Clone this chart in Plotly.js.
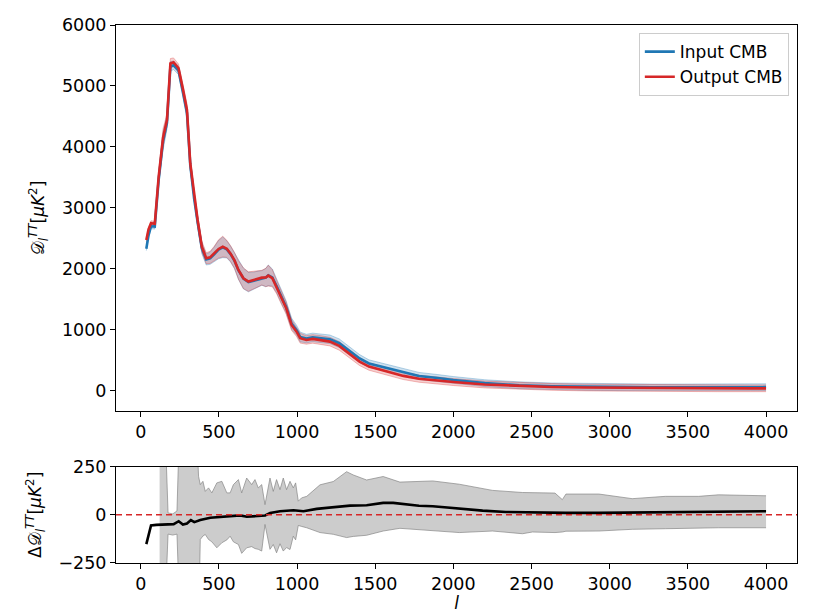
<!DOCTYPE html>
<html>
<head>
<meta charset="utf-8">
<script src="https://cdn.plot.ly/plotly-3.0.1.min.js"></script>
<style>html,body{margin:0;padding:0;background:#fff;}#chart{width:817px;height:613px;}</style>
</head>
<body>
<div id="chart"></div>
<script>
// ---- data ----
const ell = [36, 50, 66, 90, 115, 143, 168, 190, 210, 242, 270, 296, 317, 342, 364, 391, 419, 444, 470, 498, 525, 551, 575, 600, 625, 657, 689, 721, 750, 775, 800, 816, 842, 870, 900, 930, 965, 997, 1020, 1060, 1100, 1150, 1210, 1270, 1340, 1400, 1460, 1570, 1680, 1780, 1900, 2000, 2200, 2420, 2630, 2850, 3060, 3270, 3480, 3700, 3900, 4000];

const inputCMB = [2330, 2550, 2700, 2693, 3465, 4100, 4395, 5320, 5340, 5255, 4900, 4560, 3705, 3150, 2770, 2340, 2155, 2175, 2238, 2316, 2355, 2320, 2243, 2133, 1980, 1843, 1785, 1807, 1834, 1852, 1858, 1895, 1860, 1717, 1549, 1380, 1104, 995, 884, 858, 877, 866, 846, 782, 650, 531, 449, 379, 304, 245, 210, 178, 127, 92, 75, 65, 60, 57, 57, 59, 60, 61];

const outputCMB = [2475, 2650, 2750, 2740, 3513, 4150, 4443, 5370, 5390, 5290, 4950, 4607, 3733, 3185, 2803, 2366, 2175, 2190, 2250, 2328, 2366, 2330, 2250, 2140, 1984, 1847, 1792, 1815, 1840, 1857, 1860, 1890, 1847, 1700, 1530, 1360, 1082, 972, 864, 836, 852, 836, 808, 738, 600, 481, 399, 317, 246, 200, 165, 145, 105, 80, 65, 55, 50, 45, 42, 42, 42, 42];

const spreadCMB = [30, 30, 40, 40, 80, 150, 100, 80, 70, 70, 80, 100, 90, 80, 80, 90, 90, 100, 120, 150, 170, 140, 130, 130, 150, 170, 160, 140, 130, 120, 150, 170, 140, 110, 110, 100, 90, 80, 80, 70, 70, 70, 70, 70, 65, 65, 60, 60, 60, 58, 58, 57, 56, 56, 55, 55, 55, 55, 55, 55, 55, 55];

const resEll = [36, 66, 100, 168, 211, 243, 270, 296, 321, 343, 381, 445, 509, 594, 636, 679, 743, 796, 828, 891, 977, 1041, 1126, 1232, 1339, 1445, 1551, 1615, 1700, 1780, 1868, 2038, 2187, 2336, 2506, 2718, 2931, 3144, 3356, 3569, 3781, 4000];
const residual = [-152, -55, -52, -50, -48, -33, -50, -45, -27, -38, -27, -15, -12, -7, -3, -10, -7, -3, 10, 19, 24, 19, 31, 41, 48, 50, 62, 62, 55, 47, 45, 31, 22, 15, 12, 10, 10, 12, 15, 15, 17, 19];

const bandEll = [121, 150, 175, 205, 232, 253, 349, 370, 381, 398, 413, 434, 455, 487, 519, 551, 572, 593, 625, 646, 678, 710, 731, 752, 774, 795, 827, 848, 869, 891, 912, 933, 955, 976, 991, 1008, 1029, 1062, 1147, 1232, 1317, 1360, 1445, 1551, 1658, 1743, 1868, 2038, 2250, 2442, 2506, 2650, 2697, 2720, 2931, 3144, 3356, 3569, 3696, 4000];
const bandUpper = [600, 600, 10, 5, 20, 600, 600, 200, 157, 174, 122, 140, 114, 166, 174, 114, 114, 157, 183, 114, 191, 157, 183, 140, 157, 53, 191, 122, 183, 131, 191, 131, 174, 140, 166, 71, 88, 96, 156, 173, 224, 207, 181, 199, 170, 173, 176, 159, 127, 116, 116, 113, 79, 108, 108, 84, 96, 96, 104, 99];
const bandLower = [-600, -600, -100, -105, -100, -600, -600, -600, -128, -110, -102, -128, -140, -171, -145, -130, -111, -140, -154, -200, -171, -165, -175, -179, -188, -50, -179, -154, -197, -150, -188, -170, -180, -111, -130, -55, -60, -67, -92, -101, -118, -112, -106, -84, -70, -75, -84, -92, -84, -98, -89, -92, -89, -85, -84, -75, -72, -67, -67, -67];

const xTicks = [0, 500, 1000, 1500, 2000, 2500, 3000, 3500, 4000];
const yTicks = [0, 1000, 2000, 3000, 4000, 5000, 6000];
const resTicks = [-250, 0, 250];

// ---- traces ----
const BLUE = '#1f77b4', RED = '#d62728';
function bandTraces(vals, fillc, edgec) {
  const lo = vals.map((v, i) => v - spreadCMB[i]);
  const hi = vals.map((v, i) => v + spreadCMB[i]);
  return [
    {x: ell, y: lo, mode: 'lines', line: {color: edgec, width: 1}, showlegend: false, hoverinfo: 'skip', xaxis: 'x', yaxis: 'y'},
    {x: ell, y: hi, mode: 'lines', line: {color: edgec, width: 1}, fill: 'tonexty', fillcolor: fillc, showlegend: false, hoverinfo: 'skip', xaxis: 'x', yaxis: 'y'}
  ];
}

const traces = [
  ...bandTraces(inputCMB, 'rgba(31,119,180,0.22)', 'rgba(31,119,180,0.3)'),
  ...bandTraces(outputCMB, 'rgba(214,39,40,0.22)', 'rgba(214,39,40,0.3)'),
  {x: ell, y: inputCMB, mode: 'lines', name: 'Input CMB', line: {color: BLUE, width: 2.6}, xaxis: 'x', yaxis: 'y'},
  {x: ell, y: outputCMB, mode: 'lines', name: 'Output CMB', line: {color: RED, width: 2.6}, xaxis: 'x', yaxis: 'y'},
  {x: bandEll, y: bandLower, mode: 'lines', line: {color: 'rgba(128,128,128,0.65)', width: 1}, showlegend: false, hoverinfo: 'skip', xaxis: 'x2', yaxis: 'y2'},
  {x: bandEll, y: bandUpper, mode: 'lines', line: {color: 'rgba(128,128,128,0.65)', width: 1}, fill: 'tonexty', fillcolor: 'rgba(128,128,128,0.4)', showlegend: false, hoverinfo: 'skip', xaxis: 'x2', yaxis: 'y2'},
  {x: resEll, y: residual, mode: 'lines', line: {color: '#000', width: 2.6}, showlegend: false, xaxis: 'x2', yaxis: 'y2'}
];

const FONT = 'DejaVu Sans, Liberation Sans, sans-serif';
const axBase = {
  showgrid: false, zeroline: false, showline: true, linecolor: '#000', linewidth: 1, mirror: true,
  ticks: 'outside', ticklen: 5, tickwidth: 1, tickcolor: '#000',
  tickfont: {family: FONT, size: 17.5, color: '#000'}
};

const layout = {
  width: 817, height: 613,
  margin: {l: 116, r: 20, t: 25, b: 50},
  paper_bgcolor: '#fff', plot_bgcolor: '#fff',
  font: {family: FONT, size: 17, color: '#000'},
  showlegend: true,
  legend: {x: 0.988, xanchor: 'right', y: 0.985, yanchor: 'top', traceorder: 'normal', bgcolor: 'rgba(255,255,255,0.8)', bordercolor: '#cccccc', borderwidth: 1, font: {family: FONT, size: 17, color: '#000'}},
  xaxis: Object.assign({}, axBase, {anchor: 'y', domain: [0, 1], range: [-158, 4198], tickvals: xTicks}),
  yaxis: Object.assign({}, axBase, {anchor: 'x', domain: [0.2825, 1], range: [-330, 6000], tickvals: yTicks,
    title: {text: '𝒟<sub><i>l</i></sub><sup><i>TT</i></sup>[<i>μK</i><sup>2</sup>]', standoff: 12, font: {family: FONT, size: 17}}}),
  xaxis2: Object.assign({}, axBase, {anchor: 'y2', domain: [0, 1], range: [-158, 4198], tickvals: xTicks,
    title: {text: '<i>l</i>', standoff: 6, font: {family: FONT, size: 17}}}),
  yaxis2: Object.assign({}, axBase, {anchor: 'x2', domain: [0, 0.179], range: [-250, 250], tickvals: resTicks,
    title: {text: 'Δ𝒟<sub><i>l</i></sub><sup><i>TT</i></sup>[<i>μK</i><sup>2</sup>]', standoff: 12, font: {family: FONT, size: 17}}}),
  shapes: [{type: 'line', xref: 'x2 domain', x0: 0, x1: 1, yref: 'y2', y0: 0, y1: 0, layer: 'above',
    line: {color: RED, width: 1.5, dash: '6px,4px'}}]
};

Plotly.newPlot('chart', traces, layout, {displayModeBar: false, staticPlot: true});
</script>
</body>
</html>
